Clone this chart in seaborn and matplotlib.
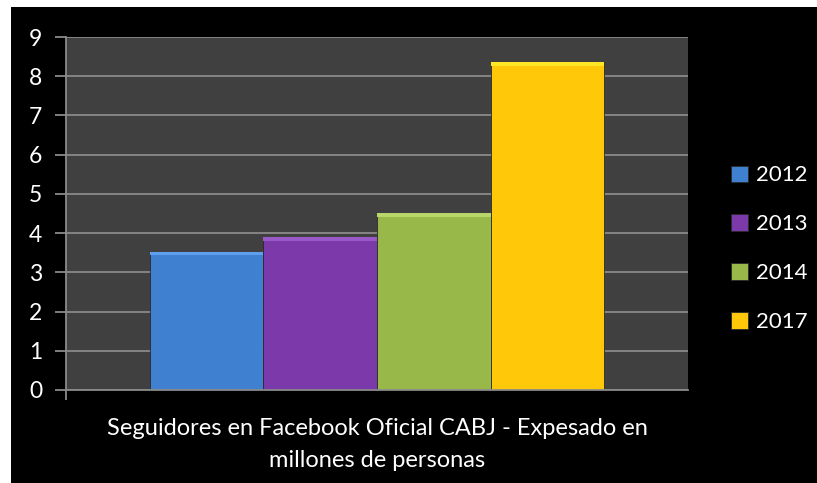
import pandas as pd
import numpy as np
import matplotlib
matplotlib.use("Agg")
import matplotlib.pyplot as plt
import seaborn as sns
from matplotlib.patches import Rectangle

# data
categoria = "Seguidores en Facebook Oficial CABJ - Expesado en\nmillones de personas"
anios = ["2012", "2013", "2014", "2017"]
seguidores = [3.52, 3.9, 4.5, 8.35]
colores = ["#3F80D0", "#7B39A9", "#98B94A", "#FFC808"]

df = pd.DataFrame({"cat": [categoria] * len(anios), "anio": anios, "valor": seguidores})

sns.set_style("dark")
plt.rcParams['font.family'] = ['Lato', 'DejaVu Sans']

fig = plt.figure(figsize=(8.17, 4.83), dpi=100, facecolor="white")
# black chart area (small white margin top/left like the original)
fig.patches.append(Rectangle((11 / 817, 0), 1, 476 / 483, transform=fig.transFigure,
                             facecolor="black", edgecolor="none", zorder=-10))
ax = fig.add_axes([66 / 817, 93 / 483, 622 / 817, 353 / 483])
ax.set_facecolor("#404040")

sns.barplot(data=df, x="cat", y="valor", hue="anio", palette=colores,
            width=0.73, gap=0, saturation=1, ax=ax, edgecolor="#2a2a2a", linewidth=0.6)

# subtle bevel: lighter band on top of each bar
for p, c in zip(list(ax.patches), colores):
    x, w, h = p.get_x(), p.get_width(), p.get_height()
    light = tuple(min(1, v + 0.12) for v in matplotlib.colors.to_rgb(c))
    ax.add_patch(Rectangle((x, h - 0.09), w, 0.09, facecolor=light, edgecolor="none", zorder=3))

ax.set_ylim(0, 9)
ax.set_xlim(-0.5, 0.5)
ax.set_yticks(range(10))
ax.set_xticks([-0.5], minor=True)
ax.grid(axis="y", color="#8a8a8a", linewidth=1.3)
ax.grid(axis="x", visible=False)
ax.set_axisbelow(True)

for s in ["top", "right"]:
    ax.spines[s].set_visible(False)
for s in ["left", "bottom"]:
    ax.spines[s].set_visible(True)
    ax.spines[s].set_color("#8a8a8a")
    ax.spines[s].set_linewidth(1.3)

ax.tick_params(axis="y", colors="#8a8a8a", labelcolor="white", labelsize=16.5,
               length=8, width=1.3, left=True, direction="out", pad=9)
ax.tick_params(axis="x", which="major", colors="#8a8a8a", labelcolor="white", labelsize=17,
               length=0, pad=20)
ax.tick_params(axis="x", which="minor", colors="#8a8a8a", length=7, width=1.3, bottom=True)
for t in ax.get_xticklabels():
    t.set_linespacing(1.65)
ax.set_xlabel("")
ax.set_ylabel("")

leg = ax.legend(loc="center left", bbox_to_anchor=(1.055, 0.40), frameon=False,
                fontsize=16, labelcolor="white", handlelength=0.75, handleheight=0.75,
                handletextpad=0.35, labelspacing=1.3, borderaxespad=0)

fig.savefig("out.png", dpi=100, facecolor=fig.get_facecolor())
